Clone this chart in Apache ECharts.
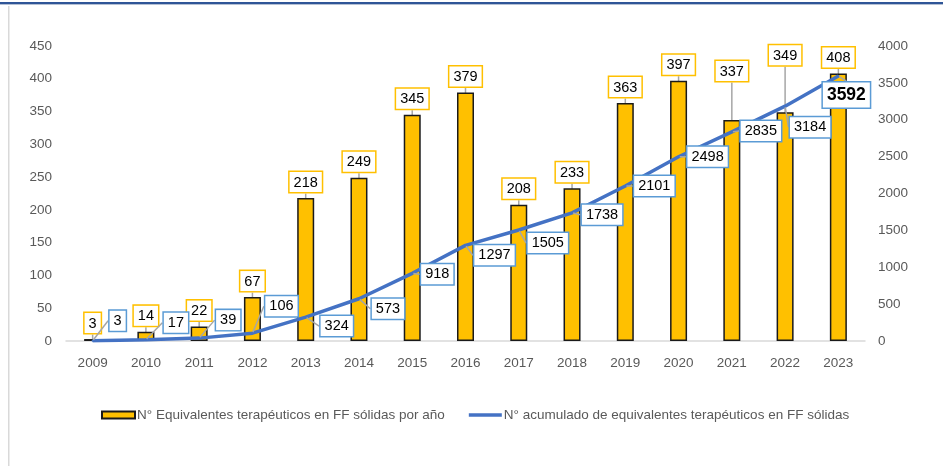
<!DOCTYPE html>
<html>
<head>
<meta charset="utf-8">
<style>
  html, body { margin: 0; padding: 0; background: #fff; }
  #chart { width: 943px; height: 466px; }
</style>
<script src="https://cdn.jsdelivr.net/npm/echarts@6/dist/echarts.min.js"></script>
</head>
<body>
<div id="chart"></div>
<script>
// categories and values
var years = ["2009", "2010", "2011", "2012", "2013", "2014", "2015", "2016", "2017", "2018", "2019", "2020", "2021", "2022", "2023"];
var perYear = [3, 14, 22, 67, 218, 249, 345, 379, 208, 233, 363, 397, 337, 349, 408];
var cumulative = [3, 17, 39, 106, 324, 573, 918, 1297, 1505, 1738, 2101, 2498, 2835, 3184, 3592];
var leftTicks = { min: 0, max: 450, interval: 50 };
var rightTicks = { min: 0, max: 4000, interval: 500 };

var barName = "N° Equivalentes terapéuticos en FF sólidas por año";
var lineName = "N° acumulado de equivalentes terapéuticos en FF sólidas";

// where the boxed labels sit relative to their mark (px)
var lineLabelShift = [
    [25, -20], [30, -17], [29, -18], [29, -27], [31, 9], [29, 10], [25, 1], [29, 10],
    [29, 13], [30, 2], [29, 0], [29, 0], [29, -1], [25, 21], [8, 19]
];
var barLabelShift = { 12: -33, 13: -41 };

var font = "'Liberation Sans', Arial, sans-serif";
var axisGrey = "#595959";

var chart = echarts.init(document.getElementById("chart"), null, { renderer: "canvas" });

var option = {
    animation: false,
    textStyle: { fontFamily: font },
    graphic: [
        { type: "rect", shape: { x: 0, y: 2, width: 943, height: 2 }, style: { fill: "#2F5597" }, silent: true },
        { type: "rect", shape: { x: 0, y: 4, width: 943, height: 1 }, style: { fill: "#B4C0D4" }, silent: true },
        { type: "rect", shape: { x: 8, y: 6, width: 1.5, height: 460 }, style: { fill: "#D9D9D9" }, silent: true }
    ],
    grid: { left: 66, right: 78, top: 46, bottom: 125, containLabel: false },
    legend: {
        left: 96,
        top: 403,
        itemWidth: 33,
        itemHeight: 7,
        itemGap: 24,
        textStyle: { fontSize: 13.5, color: axisGrey, fontFamily: font, padding: [0, 0, 0, -3] },
        data: [
            { name: barName, icon: "rect" },
            { name: lineName, icon: "path://M0,0H36V4H0Z", itemStyle: { color: "#4472C4", borderWidth: 0 } }
        ]
    },
    xAxis: {
        type: "category",
        data: years,
        axisLine: { lineStyle: { color: "#D9D9D9", width: 1.5 } },
        axisTick: { show: false },
        axisLabel: { color: axisGrey, fontSize: 13.5, margin: 15 }
    },
    yAxis: [
        {
            type: "value",
            min: leftTicks.min, max: leftTicks.max, interval: leftTicks.interval,
            splitLine: { show: false },
            axisLine: { show: false },
            axisLabel: { color: axisGrey, fontSize: 13.5, margin: 14 }
        },
        {
            type: "value",
            min: rightTicks.min, max: rightTicks.max, interval: rightTicks.interval,
            splitLine: { show: false },
            axisLine: { show: false },
            axisLabel: { color: axisGrey, fontSize: 13.5, margin: 13, formatter: function(v) { return String(v); } }
        }
    ],
    series: [
        {
            name: barName,
            type: "bar",
            yAxisIndex: 0,
            barWidth: 17,
            itemStyle: { color: "#FFC000", borderColor: "#1a1a1a", borderWidth: 1.5 },
            label: {
                show: true,
                position: "top",
                distance: 6,
                color: "#000",
                fontSize: 14.5,
                backgroundColor: "#fff",
                borderColor: "#FFC000",
                borderWidth: 1.5,
                padding: [3, 4, 2, 4]
            },
            labelLine: { show: true, lineStyle: { color: "#A6A6A6", width: 1.5 } },
            labelLayout: function(p) {
                var dy = barLabelShift[p.dataIndex];
                return dy ? { dy: dy } : {};
            },
            data: perYear
        },
        {
            name: lineName,
            type: "line",
            yAxisIndex: 1,
            z: 3,
            symbol: "circle",
            symbolSize: 2,
            itemStyle: { color: "#4472C4" },
            lineStyle: { color: "#4472C4", width: 3.5 },
            label: {
                show: true,
                position: "inside",
                color: "#000",
                fontSize: 14.5,
                backgroundColor: "#fff",
                borderColor: "#5B9BD5",
                borderWidth: 1.5,
                padding: [3, 4, 2, 4]
            },
            labelLine: { show: true, lineStyle: { color: "#A6A6A6", width: 1.5 } },
            labelLayout: function(p) {
                var s = lineLabelShift[p.dataIndex];
                return { dx: s[0], dy: s[1] };
            },
            data: cumulative.map(function(v, i) {
                if (i === cumulative.length - 1) {
                    return { value: v, label: { fontWeight: "bold", fontSize: 17.5, padding: [4, 4, 3, 4] } };
                }
                return v;
            })
        }
    ]
};

chart.setOption(option);
</script>
</body>
</html>
